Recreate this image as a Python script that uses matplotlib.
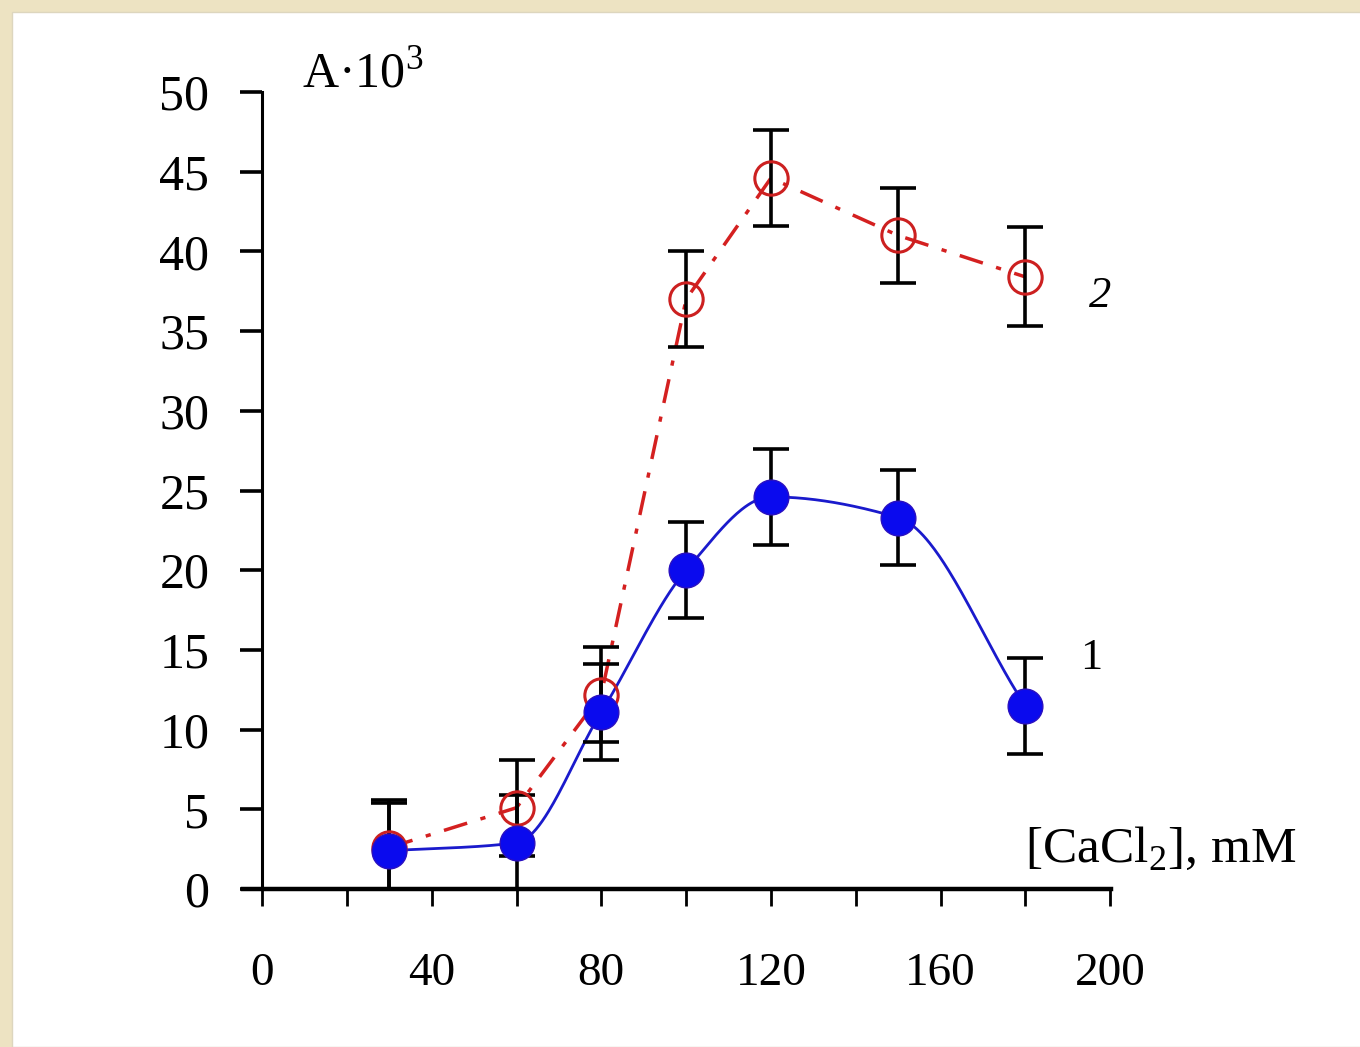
import numpy as np
import matplotlib
matplotlib.use("Agg")
import matplotlib.pyplot as plt
from matplotlib.patches import Rectangle

# ---- data ----
conc = [30, 60, 80, 100, 120, 150, 180]
series1 = [2.4, 2.9, 11.1, 20.0, 24.6, 23.3, 11.5]
series1_err = [3.0, 3.0, 3.0, 3.0, 3.0, 3.0, 3.0]
series2 = [2.6, 5.1, 12.2, 37.0, 44.6, 41.0, 38.4]
series2_err = [3.0, 3.0, 3.0, 3.0, 3.0, 3.0, 3.1]
xticks = [0, 40, 80, 120, 160, 200]
yticks = [0, 5, 10, 15, 20, 25, 30, 35, 40, 45, 50]


def pchip(x, y, xs):
    x = np.asarray(x, float); y = np.asarray(y, float)
    h = np.diff(x); d = np.diff(y) / h
    n = len(x); m = np.zeros(n)
    for k in range(1, n - 1):
        if d[k - 1] * d[k] > 0:
            w1 = 2 * h[k] + h[k - 1]; w2 = h[k] + 2 * h[k - 1]
            m[k] = (w1 + w2) / (w1 / d[k - 1] + w2 / d[k])
    m[0] = d[0]; m[-1] = d[-1]
    out = np.empty_like(xs)
    for i, xv in enumerate(xs):
        k = min(max(np.searchsorted(x, xv) - 1, 0), n - 2)
        t = (xv - x[k]) / h[k]
        h00 = 2 * t**3 - 3 * t**2 + 1; h10 = t**3 - 2 * t**2 + t
        h01 = -2 * t**3 + 3 * t**2; h11 = t**3 - t**2
        out[i] = h00 * y[k] + h10 * h[k] * m[k] + h01 * y[k + 1] + h11 * h[k] * m[k + 1]
    return out


plt.rcParams['font.family'] = ['Liberation Serif', 'DejaVu Serif']

fig = plt.figure(figsize=(13.6, 10.47), dpi=100)
fig.patch.set_facecolor('#EDE3C2')
fig.patches.append(Rectangle((12 / 1360, 0.0), 1.0, 1 - 12 / 1047,
                             transform=fig.transFigure, facecolor='white',
                             edgecolor='#DDD6BE', lw=1, zorder=-10))

ax = fig.add_axes([243 / 1360, 1 - 889 / 1047, (1111 - 243) / 1360, (889 - 92) / 1047])
ax.set_zorder(5)
ax.set_facecolor('none')
ax.set_xlim(-4.5, 200.2)
ax.set_ylim(0, 50)

ax.spines['left'].set_position(('data', 0))
ax.spines['left'].set_bounds(0, 50)
ax.spines['left'].set_linewidth(2.2)
ax.spines['bottom'].set_linewidth(3.2)
ax.spines['top'].set_visible(False)
ax.spines['right'].set_visible(False)

xs = np.linspace(conc[0], conc[-1], 400)
ax.plot(xs, pchip(conc, series1, xs), color='#1a1acc', lw=2.0, zorder=2)
ax.plot(conc, series2, color='#d42020', lw=2.5, ls=(0, (7, 4, 1.5, 4)), zorder=2)

ax.errorbar(conc, series2, yerr=series2_err, fmt='none', ecolor='black',
            elinewidth=2.6, capsize=13, capthick=2.6, zorder=3)
ax.errorbar(conc, series1, yerr=series1_err, fmt='none', ecolor='black',
            elinewidth=2.6, capsize=13, capthick=2.6, zorder=3)
ax.plot(conc, series2, ls='none', marker='o', ms=24, mfc='none', mec='#cc2020',
        mew=2.2, zorder=4)
ax.plot(conc, series1, ls='none', marker='o', ms=25, mfc='#0a0aee', mec='#2a10c0',
        mew=1, zorder=4)

ax.set_xticks(xticks)
ax.set_xticks(np.arange(0, 201, 20), minor=True)
ax.set_yticks(yticks)
ax.tick_params(axis='x', which='both', direction='out', length=12, width=2, pad=34,
               labelsize=34)
ax.tick_params(axis='y', which='major', direction='out', length=16, width=2.6, pad=22,
               labelsize=36)

ax.text(180, 2.5, '[CaCl$_\\mathregular{2}$], mM', fontsize=37, ha='left', va='center')
fig.text(302 / 1360, 1 - 75 / 1047, 'A·10$^\\mathregular{3}$', fontsize=36,
         ha='left', va='center')
ax.text(195, 37.2, '2', fontsize=32, style='italic', ha='left', va='center')
ax.text(193, 14.5, '1', fontsize=32, ha='left', va='center')

fig.savefig('out.png', dpi=100, facecolor=fig.get_facecolor())
